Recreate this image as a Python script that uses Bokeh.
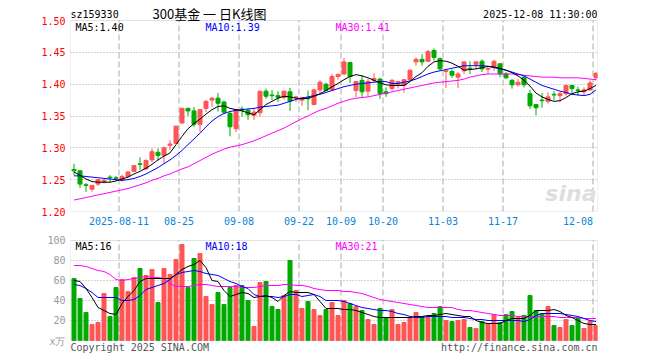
import pandas as pd
from bokeh.plotting import figure
from bokeh.layouts import column
from bokeh.models import (FixedTicker, Range1d, Label, NumeralTickFormatter,
                          ColumnDataSource, AllLabels, BoxAnnotation)
from bokeh.embed import file_html
from bokeh.resources import INLINE

# ---------------- data ----------------
holidays = pd.to_datetime(["2025-10-01", "2025-10-02", "2025-10-03", "2025-10-06",
                           "2025-10-07", "2025-10-08"])
dates = [d.strftime("%Y-%m-%d") for d in pd.bdate_range("2025-07-30", "2025-12-08")
         if d not in holidays]

opens = [1.266, 1.264, 1.242, 1.235, 1.243, 1.246, 1.254, 1.253, 1.249, 1.255,
         1.263, 1.275, 1.267, 1.281, 1.293, 1.288, 1.304, 1.307, 1.339, 1.362,
         1.358, 1.337, 1.362, 1.375, 1.378, 1.372, 1.354, 1.330, 1.361, 1.359,
         1.351, 1.355, 1.389, 1.383, 1.382, 1.379, 1.388, 1.379, 1.375, 1.378,
         1.368, 1.391, 1.400, 1.391, 1.412, 1.416, 1.434, 1.390, 1.406, 1.389,
         1.406, 1.408, 1.388, 1.393, 1.400, 1.398, 1.407, 1.435, 1.439, 1.436,
         1.453, 1.440, 1.420, 1.420, 1.411, 1.421, 1.425, 1.431, 1.436, 1.4235,
         1.427, 1.432, 1.416, 1.406, 1.399, 1.411, 1.385, 1.368, 1.375, 1.373,
         1.384, 1.382, 1.385, 1.398, 1.391, 1.388, 1.391, 1.410]
closes = [1.264, 1.243, 1.241, 1.241, 1.250, 1.249, 1.253, 1.252, 1.255, 1.262,
          1.272, 1.274, 1.280, 1.294, 1.288, 1.300, 1.306, 1.334, 1.362, 1.358,
          1.337, 1.360, 1.373, 1.378, 1.370, 1.356, 1.333, 1.360, 1.359, 1.352,
          1.356, 1.389, 1.381, 1.382, 1.379, 1.389, 1.373, 1.380, 1.379, 1.377,
          1.391, 1.403, 1.390, 1.412, 1.415, 1.435, 1.412, 1.404, 1.388, 1.404,
          1.409, 1.385, 1.385, 1.406, 1.404, 1.407, 1.422, 1.439, 1.435, 1.451,
          1.442, 1.424, 1.421, 1.414, 1.416, 1.435, 1.424, 1.435, 1.424, 1.4245,
          1.436, 1.416, 1.410, 1.399, 1.403, 1.399, 1.366, 1.363, 1.374, 1.380,
          1.383, 1.385, 1.398, 1.393, 1.390, 1.391, 1.402, 1.417]
highs = [1.275, 1.265, 1.245, 1.241, 1.251, 1.251, 1.257, 1.256, 1.258, 1.263,
         1.273, 1.285, 1.282, 1.299, 1.299, 1.302, 1.312, 1.335, 1.363, 1.363,
         1.364, 1.361, 1.375, 1.380, 1.386, 1.374, 1.358, 1.361, 1.365, 1.362,
         1.361, 1.389, 1.393, 1.391, 1.389, 1.389, 1.394, 1.382, 1.380, 1.390,
         1.393, 1.406, 1.402, 1.416, 1.417, 1.441, 1.434, 1.404, 1.414, 1.408,
         1.417, 1.410, 1.395, 1.408, 1.405, 1.408, 1.423, 1.442, 1.447, 1.454,
         1.456, 1.442, 1.422, 1.423, 1.419, 1.436, 1.436, 1.436, 1.439, 1.429,
         1.438, 1.433, 1.419, 1.408, 1.408, 1.414, 1.391, 1.369, 1.386, 1.387,
         1.389, 1.388, 1.399, 1.399, 1.396, 1.395, 1.406, 1.419]
lows = [1.257, 1.237, 1.231, 1.231, 1.240, 1.244, 1.246, 1.248, 1.247, 1.254,
        1.262, 1.265, 1.265, 1.277, 1.280, 1.275, 1.297, 1.306, 1.338, 1.350,
        1.333, 1.325, 1.356, 1.364, 1.357, 1.353, 1.318, 1.325, 1.349, 1.344,
        1.344, 1.349, 1.377, 1.375, 1.372, 1.376, 1.358, 1.372, 1.366, 1.359,
        1.367, 1.386, 1.389, 1.390, 1.407, 1.414, 1.402, 1.380, 1.380, 1.380,
        1.403, 1.377, 1.380, 1.390, 1.393, 1.387, 1.405, 1.429, 1.429, 1.435,
        1.437, 1.421, 1.394, 1.410, 1.394, 1.416, 1.416, 1.423, 1.419, 1.416,
        1.421, 1.411, 1.408, 1.393, 1.396, 1.395, 1.361, 1.351, 1.363, 1.369,
        1.375, 1.372, 1.382, 1.386, 1.382, 1.382, 1.390, 1.406]
volumes = [62, 42, 28, 16, 18, 47, 24, 53, 61, 49,
           63, 72, 65, 71, 38, 72, 66, 81, 96, 53,
           82, 87, 44, 36, 48, 36, 53, 55, 55, 40,
           14, 58, 59, 34, 31, 45, 80, 50, 32, 39,
           31, 25, 31, 38, 25, 40, 37, 34, 30, 21,
           16, 32, 23, 31, 16, 18, 23, 28, 24, 23,
           27, 34, 20, 19, 20, 21, 13, 12, 19, 17,
           26, 18, 26, 29, 23, 25, 45, 30, 27, 34,
           15, 13, 21, 15, 22, 12, 19, 15]

ma5 = [1.262, 1.257, 1.251, 1.247, 1.246, 1.246, 1.246, 1.248, 1.251, 1.254,
       1.259, 1.263, 1.268, 1.274, 1.281, 1.287, 1.292, 1.305, 1.318, 1.330,
       1.338, 1.345, 1.353, 1.360, 1.365, 1.366, 1.362, 1.360, 1.358, 1.355,
       1.352, 1.360, 1.368, 1.373, 1.378, 1.381, 1.380, 1.378, 1.377, 1.378,
       1.381, 1.385, 1.390, 1.396, 1.401, 1.407, 1.412, 1.415, 1.413, 1.410,
       1.406, 1.402, 1.399, 1.398, 1.398, 1.398, 1.404, 1.412, 1.418, 1.428,
       1.435, 1.437, 1.436, 1.433, 1.428, 1.422, 1.423, 1.424, 1.426, 1.428,
       1.427, 1.425, 1.422, 1.418, 1.413, 1.406, 1.397, 1.386, 1.380, 1.376,
       1.373, 1.374, 1.379, 1.385, 1.388, 1.389, 1.393, 1.398]
ma10 = [1.256, 1.256, 1.255, 1.254, 1.253, 1.252, 1.251, 1.250, 1.249, 1.250,
        1.252, 1.255, 1.259, 1.264, 1.269, 1.275, 1.281, 1.288, 1.296, 1.305,
        1.314, 1.323, 1.333, 1.342, 1.349, 1.354, 1.357, 1.359, 1.360, 1.361,
        1.362, 1.364, 1.365, 1.366, 1.367, 1.370, 1.373, 1.376, 1.378, 1.380,
        1.382, 1.384, 1.387, 1.390, 1.393, 1.396, 1.398, 1.400, 1.401, 1.402,
        1.403, 1.404, 1.404, 1.401, 1.401, 1.403, 1.405, 1.408, 1.412, 1.416,
        1.419, 1.421, 1.423, 1.425, 1.427, 1.429, 1.429, 1.429, 1.429, 1.428,
        1.426, 1.424, 1.422, 1.419, 1.416, 1.413, 1.408, 1.403, 1.398, 1.395,
        1.392, 1.389, 1.387, 1.384, 1.383, 1.382, 1.384, 1.391]
ma30 = [1.218, 1.220, 1.222, 1.224, 1.226, 1.228, 1.230, 1.232, 1.234, 1.236,
        1.239, 1.242, 1.245, 1.249, 1.252, 1.256, 1.259, 1.263, 1.267, 1.270,
        1.275, 1.280, 1.285, 1.290, 1.294, 1.298, 1.301, 1.303, 1.305, 1.308,
        1.311, 1.315, 1.319, 1.323, 1.327, 1.331, 1.336, 1.341, 1.346, 1.350,
        1.355, 1.359, 1.362, 1.366, 1.370, 1.373, 1.376, 1.378, 1.379, 1.380,
        1.382, 1.384, 1.386, 1.388, 1.390, 1.392, 1.394, 1.396, 1.398, 1.400,
        1.402, 1.403, 1.404, 1.405, 1.406, 1.408, 1.411, 1.413, 1.415, 1.416,
        1.416, 1.416, 1.416, 1.416, 1.415, 1.414, 1.413, 1.412, 1.411, 1.411,
        1.411, 1.410, 1.410, 1.410, 1.410, 1.409, 1.408, 1.407]

vma5 = [60, 59, 52, 43, 33, 30, 27, 26, 37, 44,
        50, 59, 62, 62, 62, 62, 62, 66, 71, 74,
        76, 80, 73, 60, 59, 50, 44, 46, 48, 47,
        43, 44, 45, 43, 39, 45, 49, 48, 48, 48,
        46, 39, 32, 32, 32, 31, 31, 30, 28, 26,
        24, 23, 23, 23, 23, 23, 23, 24, 24, 25,
        25, 26, 27, 26, 25, 24, 24, 20, 18, 17,
        17, 17, 20, 22, 22, 22, 25, 30, 30, 30,
        31, 29, 25, 23, 20, 17, 16, 16]
vma10 = [56, 55, 52, 48, 43, 43, 43, 43, 40, 40,
         41, 45, 51, 53, 55, 57, 61, 66, 68, 69,
         70, 69, 67, 66, 65, 62, 59, 57, 54, 52,
         46, 44, 44, 44, 43, 44, 46, 46, 44, 45,
         46, 44, 40, 40, 40, 39, 37, 35, 33, 32,
         31, 30, 30, 29, 27, 26, 24, 23, 23, 24,
         24, 24, 24, 23, 23, 23, 22, 21, 21, 20,
         20, 20, 20, 20, 20, 19, 21, 25, 27, 27,
         27, 27, 26, 25, 24, 22, 20, 19]
vma30 = [75, 75, 74, 72, 70, 69, 66, 61, 60, 61,
         62, 63, 64, 63, 63, 62, 57, 54, 54, 54,
         55, 56, 56, 55, 54, 54, 54, 54, 53, 53,
         53, 54, 55, 55, 55, 56, 56, 55, 55, 54,
         52, 51, 50, 50, 50, 49, 49, 48, 47, 45,
         43, 41, 40, 39, 38, 37, 36, 35, 34, 33,
         33, 33, 33, 33, 31, 30, 30, 29, 28, 27,
         26, 25, 25, 25, 24, 24, 24, 24, 24, 24,
         24, 23, 23, 23, 23, 22, 22, 22]

tick_dates = ["2025-08-11", "2025-08-25", "2025-09-08", "2025-09-22", "2025-10-09",
              "2025-10-20", "2025-11-03", "2025-11-17", "2025-12-08"]
tick_labels = ["2025-08-11", "08-25", "09-08", "09-22", "10-09",
               "10-20", "11-03", "11-17", "12-08\u00a0\u00a0\u00a0\u00a0\u00a0"]
price_ticks = [1.20, 1.25, 1.30, 1.35, 1.40, 1.45, 1.50]
price_grid = [1.25, 1.30, 1.35, 1.40, 1.45]
vol_ticks = [20, 40, 60, 80, 100]
vol_grid = [20, 40, 60, 80]
vol_unit = "x万"
P_MIN, P_MAX = 1.20, 1.50
V_MIN, V_MAX = 0, 100

# ---------------- styling / layout ----------------
RED = "#ff5555"
GREEN = "#00aa00"
MONO = "DejaVu Sans Mono"
GRID = "#aaaaaa"
BORDER = "#999999"

FRAME_L, FRAME_W = 70, 527          # visible box: x 70..597
P_TOP, P_BOT = 20, 211              # price box
V_TOP, V_BOT = 240, 340             # volume box
H1 = 230                            # height of price figure (volume figure starts below)

n = len(dates)
xs = [i + 0.5 for i in range(n)]
colors = [RED if c >= o else GREEN for o, c in zip(opens, closes)]
src = ColumnDataSource(dict(
    x=xs, open=opens, close=closes, high=highs, low=lows,
    top=[max(o, c) for o, c in zip(opens, closes)],
    bottom=[min(o, c) for o, c in zip(opens, closes)],
    color=colors, vol=volumes,
    ma5=ma5, ma10=ma10, ma30=ma30, vma5=vma5, vma10=vma10, vma30=vma30))

tick_pos = [dates.index(d) for d in tick_dates]

x_start = -0.5 / 6
xr = Range1d(x_start, x_start + FRAME_W / 6)

p_per_px = (P_MAX - P_MIN) / (P_BOT - P_TOP)
yr1 = Range1d(P_MIN, P_MAX + P_TOP * p_per_px)           # frame spans y 0..211
v_per_px = (V_MAX - V_MIN) / (V_BOT - V_TOP)
yr2 = Range1d(V_MIN - (360 - V_BOT) * v_per_px, V_MAX + (V_TOP - H1) * v_per_px)


def px_x(X):
    return x_start + (X - FRAME_L) / 6


def px_price(Y):
    return P_MAX - (Y - P_TOP) * p_per_px


def px_vol(Y):
    return V_MAX - (Y - V_TOP) * v_per_px


def style(p):
    p.outline_line_color = None
    p.background_fill_color = "white"
    p.border_fill_color = "white"
    p.xgrid.visible = False
    p.ygrid.grid_line_color = GRID
    p.ygrid.grid_line_dash = "1 2"
    for ax in p.yaxis:
        ax.axis_line_color = None
        ax.major_tick_line_color = None
        ax.minor_tick_line_color = None
        ax.major_tick_out = 0
        ax.major_tick_in = 0
        ax.minor_tick_out = 0
        ax.major_label_standoff = 5
        ax.major_label_text_font = MONO
        ax.major_label_text_font_size = "10px"


def label(p, x, y, text, align, color, font=MONO, size="10px", style="normal"):
    p.add_layout(Label(x=x, y=y, text=text, text_align=align, text_baseline="middle",
                       text_font=font, text_font_size=size, text_color=color,
                       text_font_style=style))


# ---------------- price panel ----------------
p1 = figure(width=660, height=H1, x_range=xr, y_range=yr1, title=None,
            output_backend="svg", toolbar_location=None,
            min_border_left=FRAME_L, min_border_right=660 - FRAME_L - FRAME_W,
            min_border_top=0, min_border_bottom=H1 - P_BOT)
style(p1)
p1.ygrid.ticker = FixedTicker(ticks=price_grid)
p1.yaxis.ticker = FixedTicker(ticks=price_ticks)
p1.yaxis.formatter = NumeralTickFormatter(format="0.00")
p1.yaxis.major_label_text_color = "#ff0000"
p1.xaxis.ticker = FixedTicker(ticks=tick_pos)
p1.xaxis.major_label_overrides = {k: v for k, v in zip(tick_pos, tick_labels)}
p1.xaxis.major_label_policy = AllLabels()
p1.xaxis.axis_line_color = None
p1.xaxis.major_tick_line_color = None
p1.xaxis.minor_tick_line_color = None
p1.xaxis.major_tick_out = 0
p1.xaxis.major_tick_in = 0
p1.xaxis.minor_tick_out = 0
p1.xaxis.major_label_standoff = 4
p1.xaxis.major_label_text_font = MONO
p1.xaxis.major_label_text_font_size = "10px"
p1.xaxis.major_label_text_color = "#0a84d8"

# vertical dashed date grid, limited to the price box
p1.segment(x0=tick_pos, y0=[P_MIN] * len(tick_pos), x1=tick_pos, y1=[P_MAX] * len(tick_pos),
           line_color=GRID, line_dash="6 3", line_width=1)
p1.add_layout(BoxAnnotation(left=xr.start, right=xr.end, bottom=P_MIN, top=P_MAX,
                            fill_alpha=0, line_color=BORDER, line_width=1))

# watermark
label(p1, px_x(596), px_price(193), "sina", "right", "#dedede",
      font="DejaVu Sans", size="22px", style="bold italic")

p1.segment(x0="x", y0="low", x1="x", y1="high", color="color", line_width=1, source=src)
p1.vbar(x="x", width=4 / 6, top="top", bottom="bottom", fill_color="color",
        line_color="color", line_width=1, source=src)
p1.line("x", "ma30", color="#ff00ff", line_width=1, source=src)
p1.line("x", "ma10", color="#0000ff", line_width=1, source=src)
p1.line("x", "ma5", color="#000000", line_width=1, source=src)

# header texts
label(p1, px_x(70), px_price(13.5), "sz159330", "left", "#000000")
label(p1, px_x(209), px_price(12.5), "300基金\u00a0一\u00a0日K线图", "center", "#000000",
      font="Noto Sans CJK SC", size="13px")
label(p1, px_x(597), px_price(13.5), "2025-12-08 11:30:00", "right", "#000000")
for X, txt, col in [(75, "MA5:1.40", "#000000"), (205, "MA10:1.39", "#0000ff"),
                    (335, "MA30:1.41", "#ff00ff")]:
    label(p1, px_x(X), px_price(26.5), txt, "left", col)

# ---------------- volume panel ----------------
p2 = figure(width=660, height=360 - H1, x_range=xr, y_range=yr2, title=None,
            output_backend="svg", toolbar_location=None,
            min_border_left=FRAME_L, min_border_right=660 - FRAME_L - FRAME_W,
            min_border_top=0, min_border_bottom=0)
style(p2)
p2.xaxis.visible = False
p2.ygrid.ticker = FixedTicker(ticks=vol_grid)
unit_pos = px_vol(341)
p2.yaxis.ticker = FixedTicker(ticks=vol_ticks + [unit_pos])
p2.yaxis.major_label_overrides = {unit_pos: vol_unit}
p2.yaxis.major_label_policy = AllLabels()
p2.yaxis.major_label_text_color = "#999999"

p2.segment(x0=tick_pos, y0=[V_MIN] * len(tick_pos), x1=tick_pos, y1=[V_MAX] * len(tick_pos),
           line_color=GRID, line_dash="6 3", line_width=1)

p2.vbar(x="x", width=4 / 6, top="vol", bottom=0, fill_color="color",
        line_color="color", line_width=1, source=src)
p2.line("x", "vma30", color="#ff00ff", line_width=1, source=src)
p2.line("x", "vma10", color="#0000ff", line_width=1, source=src)
p2.line("x", "vma5", color="#000000", line_width=1, source=src)
p2.add_layout(BoxAnnotation(left=xr.start, right=xr.end, bottom=V_MIN, top=V_MAX,
                            fill_alpha=0, line_color=BORDER, line_width=1))

for X, txt, col in [(75, "MA5:16", "#000000"), (205, "MA10:18", "#0000ff"),
                    (335, "MA30:21", "#ff00ff")]:
    label(p2, px_x(X), px_vol(246), txt, "left", col)
label(p2, px_x(70), px_vol(346.5), "Copyright 2025 SINA.COM", "left", "#555555")
label(p2, px_x(597), px_vol(346.5), "http://finance.sina.com.cn", "right", "#555555")

layout = column(p1, p2, spacing=0)
open("out.html", "w").write(file_html(layout, INLINE))
